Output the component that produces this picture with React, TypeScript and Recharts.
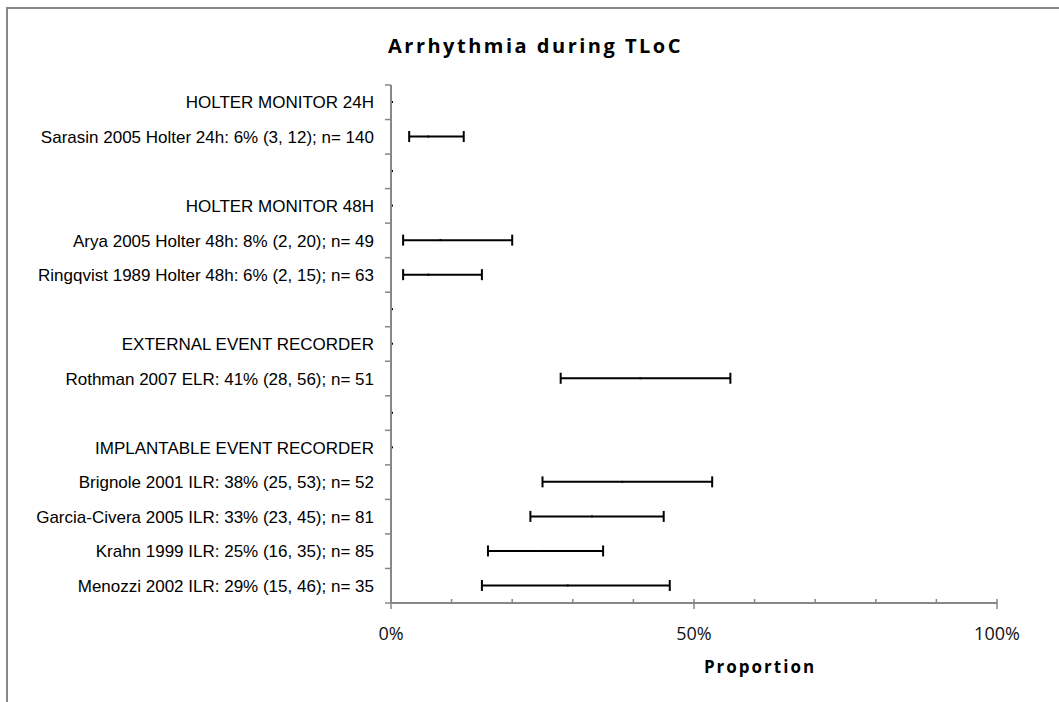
import React from "react";
import { ComposedChart, Bar, ErrorBar, XAxis, YAxis } from "recharts";

// rows top to bottom; group headers and spacer rows carry no estimate
const rowLabels = [
  "HOLTER MONITOR 24H",
  "Sarasin 2005 Holter 24h: 6% (3, 12); n= 140",
  "",
  "HOLTER MONITOR 48H",
  "Arya 2005 Holter 48h: 8% (2, 20); n= 49",
  "Ringqvist 1989 Holter 48h: 6% (2, 15); n= 63",
  "",
  "EXTERNAL EVENT RECORDER",
  "Rothman 2007 ELR: 41% (28, 56); n= 51",
  "",
  "IMPLANTABLE EVENT RECORDER",
  "Brignole 2001 ILR: 38% (25, 53); n= 52",
  "Garcia-Civera 2005 ILR: 33% (23, 45); n= 81",
  "Krahn 1999 ILR: 25% (16, 35); n= 85",
  "Menozzi 2002 ILR: 29% (15, 46); n= 35",
];
const estimates = [0, 6, 0, 0, 8, 6, 0, 0, 41, 0, 0, 38, 33, 25, 29];
const lower = [0, 3, 0, 0, 2, 2, 0, 0, 28, 0, 0, 25, 23, 16, 15];
const upper = [0, 12, 0, 0, 20, 15, 0, 0, 56, 0, 0, 53, 45, 35, 46];

const majorTicks = [0, 50, 100];
const xTicks = [0, 10, 20, 30, 40, 50, 60, 70, 80, 90, 100];

const data = rowLabels.map((label, i) => ({
  id: `r${i}`,
  label,
  est: estimates[i],
  err: [estimates[i] - lower[i], upper[i] - estimates[i]],
}));

const AXIS = "#878787";

// small point at the estimate (sits just right of the axis for empty rows)
const EstimateDot = (props: any) => {
  const { x, y, width, height } = props;
  return <rect x={x + width} y={y + height / 2 - 1} width={2} height={2} fill="#000" />;
};

// excel-style: minor marks inside, major marks crossing, labels only on majors
const XTick = (props: any) => {
  const { x, y, payload } = props;
  const major = majorTicks.includes(payload.value);
  return (
    <g>
      <line x1={x} x2={x} y1={y - 4} y2={major ? y + 6 : y} stroke={AXIS} strokeWidth={1.5} />
      {major && (
        <text
          x={x}
          y={y + 37}
          textAnchor="middle"
          fill="#111"
          fontSize={18}
          fontFamily="'Open Sans', sans-serif"
        >
          {payload.value}%
        </text>
      )}
    </g>
  );
};

// tick marks sit between rows, labels in the middle of each row
const YTick = (props: any) => {
  const { x, y, payload, index } = props;
  const half = payload.offset ?? 0;
  return (
    <g>
      <line x1={x - 6} x2={x} y1={y - half} y2={y - half} stroke={AXIS} strokeWidth={1.5} />
      {index === rowLabels.length - 1 && (
        <line x1={x - 6} x2={x} y1={y + half} y2={y + half} stroke={AXIS} strokeWidth={1.5} />
      )}
      <text
        x={x - 17}
        y={y}
        dy="0.36em"
        textAnchor="end"
        fill="#000"
        fontSize={17}
        fontFamily="'Liberation Sans', Arial, sans-serif"
      >
        {rowLabels[index]}
      </text>
    </g>
  );
};

export default function App() {
  return (
    <div
      style={{
        position: "absolute",
        left: 0,
        top: 0,
        width: 1059,
        height: 702,
        overflow: "hidden",
        background: "#fff",
      }}
    >
      <div
        style={{
          position: "absolute",
          left: 6,
          top: 7,
          width: 1100,
          height: 800,
          borderLeft: `2px solid ${AXIS}`,
          borderTop: `2px solid ${AXIS}`,
        }}
      />
      <div
        style={{
          position: "absolute",
          left: 0,
          top: 36,
          width: 1071,
          textAlign: "center",
          fontFamily: "'Open Sans', sans-serif",
          fontWeight: 700,
          fontSize: 20,
          lineHeight: "20px",
          letterSpacing: 2.5,
          color: "#000",
        }}
      >
        Arrhythmia during TLoC
      </div>
      <div style={{ position: "absolute", left: 0, top: 0 }}>
        <ComposedChart
          width={1059}
          height={702}
          data={data}
          layout="vertical"
          margin={{ top: 85, right: 62, bottom: 39, left: 0 }}
          barSize={4}
        >
          <XAxis
            type="number"
            domain={[0, 100]}
            ticks={xTicks}
            interval={0}
            height={60}
            tickSize={0}
            tickMargin={0}
            tickLine={false}
            axisLine={{ stroke: AXIS, strokeWidth: 2 }}
            tick={<XTick />}
            label={{
              value: "Proportion",
              position: "insideBottom",
              offset: -10,
              dx: 66,
              fill: "#000",
              fontSize: 17,
              fontWeight: 700,
              letterSpacing: 2,
              fontFamily: "'Open Sans', sans-serif",
            }}
          />
          <YAxis
            type="category"
            dataKey="id"
            width={391}
            axisLine={{ stroke: AXIS, strokeWidth: 2 }}
            tickLine={false}
            tickSize={0}
            tickMargin={0}
            interval={0}
            tick={<YTick />}
          />
          <Bar dataKey="est" shape={<EstimateDot />} isAnimationActive={false}>
            <ErrorBar dataKey="err" direction="x" width={5.5} stroke="#000" strokeWidth={2} />
          </Bar>
        </ComposedChart>
      </div>
    </div>
  );
}
